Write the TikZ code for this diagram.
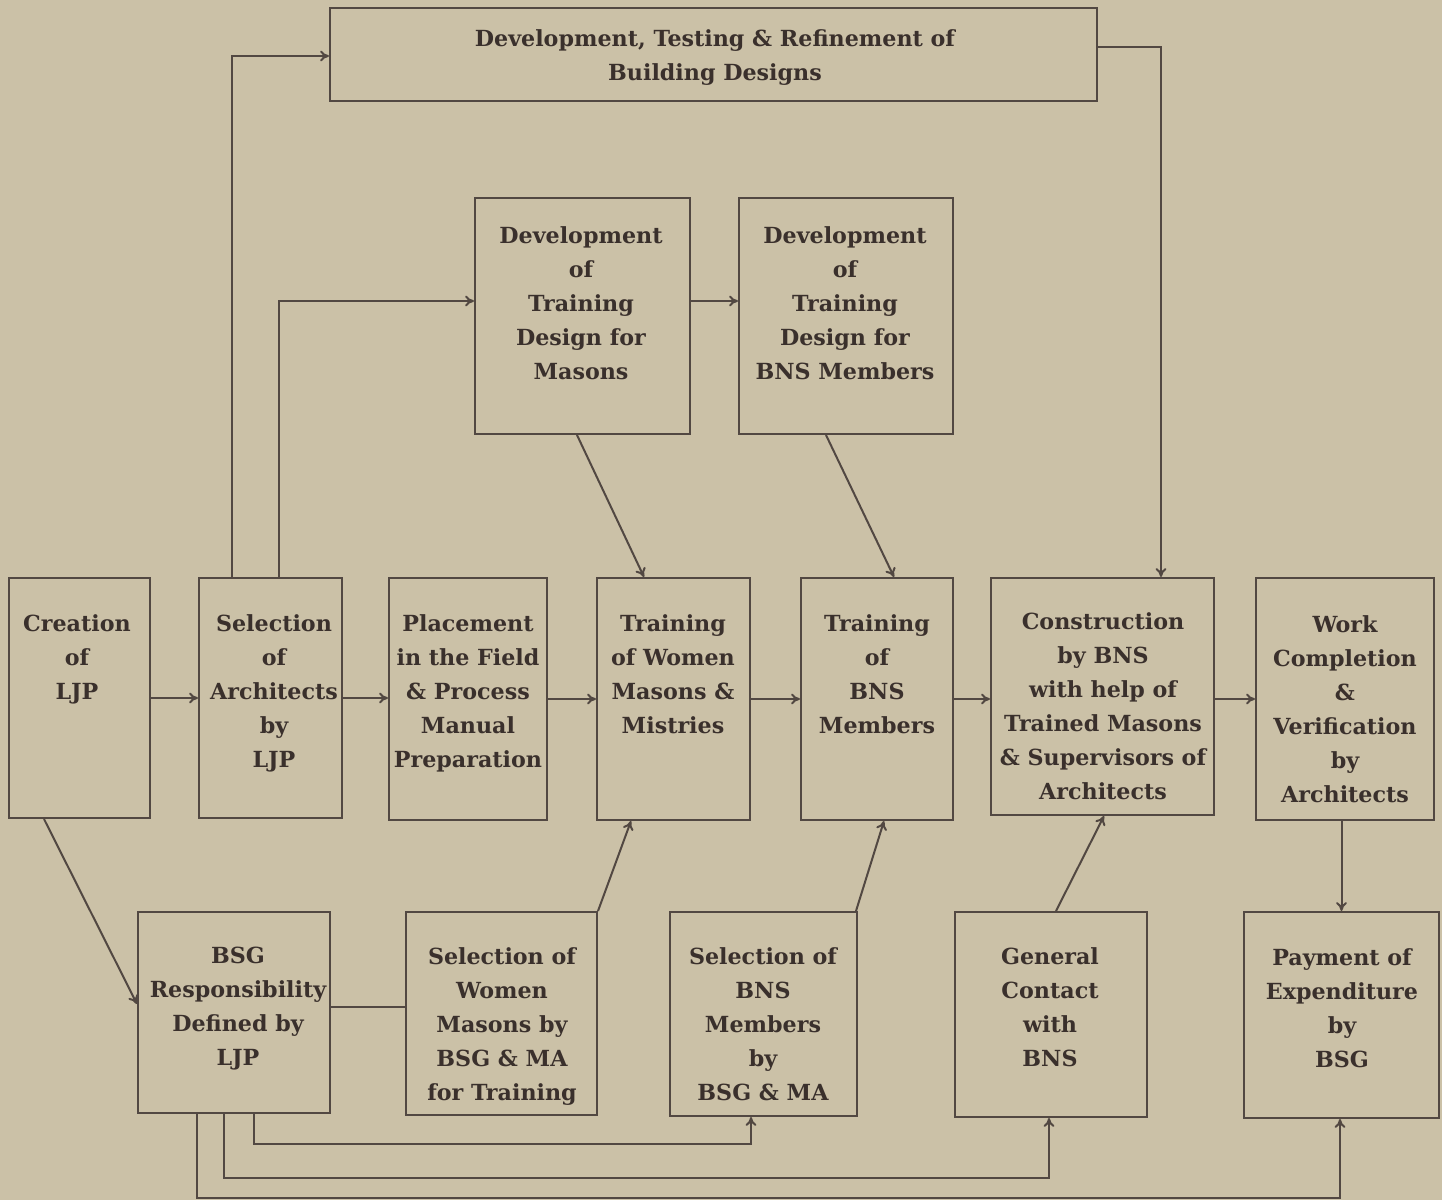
\documentclass[tikz,border=0pt]{standalone}
\usepackage{fontspec}
\setmainfont{DejaVu Serif}
\usetikzlibrary{fit,calc,arrows.meta}
\definecolor{paper}{RGB}{203,193,167}
\definecolor{ink}{RGB}{82,72,66}
\definecolor{txtc}{RGB}{58,48,44}
\begin{document}
\begin{tikzpicture}[x=0.5pt,y=-0.5pt,
  box/.style={draw=ink,line width=1pt,inner sep=0pt,rectangle},
  txt/.style={anchor=north,inner sep=0pt,align=center,text=txtc,font=\bfseries\fontsize{11.1}{17}\selectfont},
  arr/.style={draw=ink,line width=1pt,-{To[length=4.5pt,width=5.5pt]}},
  ln/.style={draw=ink,line width=1pt}]
\fill[paper] (0,0) rectangle (1442,1200);
\useasboundingbox (0,0) rectangle (1442,1200);
% boxes
\node[box,fit={(330,8)(1097,101)}] (top) {};
\node[box,fit={(475,198)(690,434)}] (dm) {};
\node[box,fit={(739,198)(953,434)}] (db) {};
\node[box,fit={(9,578)(150,818)}] (cre) {};
\node[box,fit={(199,578)(342,818)}] (sel) {};
\node[box,fit={(389,578)(547,820)}] (pla) {};
\node[box,fit={(597,578)(750,820)}] (tw) {};
\node[box,fit={(801,578)(953,820)}] (tb) {};
\node[box,fit={(991,578)(1214,815)}] (con) {};
\node[box,fit={(1256,578)(1434,820)}] (wc) {};
\node[box,fit={(138,912)(330,1113)}] (bsg) {};
\node[box,fit={(406,912)(597,1115)}] (sw) {};
\node[box,fit={(670,912)(857,1116)}] (sb) {};
\node[box,fit={(955,912)(1147,1117)}] (gc) {};
\node[box,fit={(1244,912)(1439,1118)}] (pay) {};
% texts
\node[txt] (topT) at (715,29) {Development, Testing \& Refinement of\\Building Designs};
\node[txt] (dmT) at (581,226) {Development\\of\\Training\\Design for\\Masons};
\node[txt] (dbT) at (845,226) {Development\\of\\Training\\Design for\\BNS Members};
\node[txt] (creT) at (77,614) {Creation\\of\\LJP};
\node[txt] (selT) at (274,614) {Selection\\of\\Architects\\by\\LJP};
\node[txt] (plaT) at (468,614) {Placement\\in the Field\\\& Process\\Manual\\Preparation};
\node[txt] (twT) at (673,614) {Training\\of Women\\Masons \&\\Mistries};
\node[txt] (tbT) at (877,614) {Training\\of\\BNS\\Members};
\node[txt] (conT) at (1103,612) {Construction\\by BNS\\with help of\\Trained Masons\\\& Supervisors of\\Architects};
\node[txt] (wcT) at (1345,615) {Work\\Completion\\\&\\Verification\\by\\Architects};
\node[txt] (bsgT) at (238,947) {BSG\\Responsibility\\Defined by\\LJP};
\node[txt] (swT) at (502,947) {Selection of\\Women\\Masons by\\BSG \& MA\\for Training};
\node[txt] (sbT) at (763,947) {Selection of\\BNS\\Members\\by\\BSG \& MA};
\node[txt] (gcT) at (1050,947) {General\\Contact\\with\\BNS};
\node[txt] (payT) at (1342,948) {Payment of\\Expenditure\\by\\BSG};
% main row
\draw[arr] (cre.east) -- (cre.east -| sel.west);
\draw[arr] (sel.east) -- (sel.east -| pla.west);
\draw[arr] (pla.east) -- (pla.east -| tw.west);
\draw[arr] (tw.east) -- (tw.east -| tb.west);
\draw[arr] (tb.east) -- (tb.east -| con.west);
\draw[arr] (tb.east -| con.east) -- (tb.east -| wc.west);
\draw[arr] (pay.north |- wc.south) -- (pay.north);
% diagonals
\draw[arr] ($(cre.south west)+(36,0)$) -- ($(bsg.north west)+(0,93)$);
\draw[ln] ($(bsg.north east)+(0,96)$) -- ($(sw.north west)+(0,96)$);
\draw[arr] (sw.north east) -- ($(tw.south west)+(35,0)$);
\draw[arr] ($(sb.north east)+(-2,0)$) -- ($(tb.south west)+(84,0)$);
\draw[arr] ($(gc.north west)+(102,0)$) -- ($(con.south west)+(114,0)$);
\draw[arr] ($(dm.south west)+(103,0)$) -- ($(tw.north west)+(48,0)$);
\draw[arr] ($(db.south west)+(88,0)$) -- ($(tb.north west)+(94,0)$);
\draw[arr] ($(dm.north east)+(0,104)$) -- ($(db.north west)+(0,104)$);
% top loops
\draw[arr] ($(sel.north west)+(34,0)$) |- ($(top.north west)+(0,49)$);
\draw[arr] ($(sel.north west)+(81,0)$) |- ($(dm.north west)+(0,104)$);
\draw[arr] ($(top.north east)+(0,40)$) -| ($(con.north west)+(171,0)$);
% bottom loops
\coordinate (b1) at ($(bsg.south west)+(117,30)$);
\coordinate (b2) at ($(bsg.south west)+(87,64)$);
\coordinate (b3) at ($(bsg.south west)+(60,84)$);
\draw[arr] ($(bsg.south west)+(117,0)$) -- (b1) -| ($(sb.south west)+(82,0)$);
\draw[arr] ($(bsg.south west)+(87,0)$) -- (b2) -| ($(gc.south west)+(95,0)$);
\draw[arr] ($(bsg.south west)+(60,0)$) -- (b3) -| ($(pay.south west)+(97,0)$);
\end{tikzpicture}
\end{document}
